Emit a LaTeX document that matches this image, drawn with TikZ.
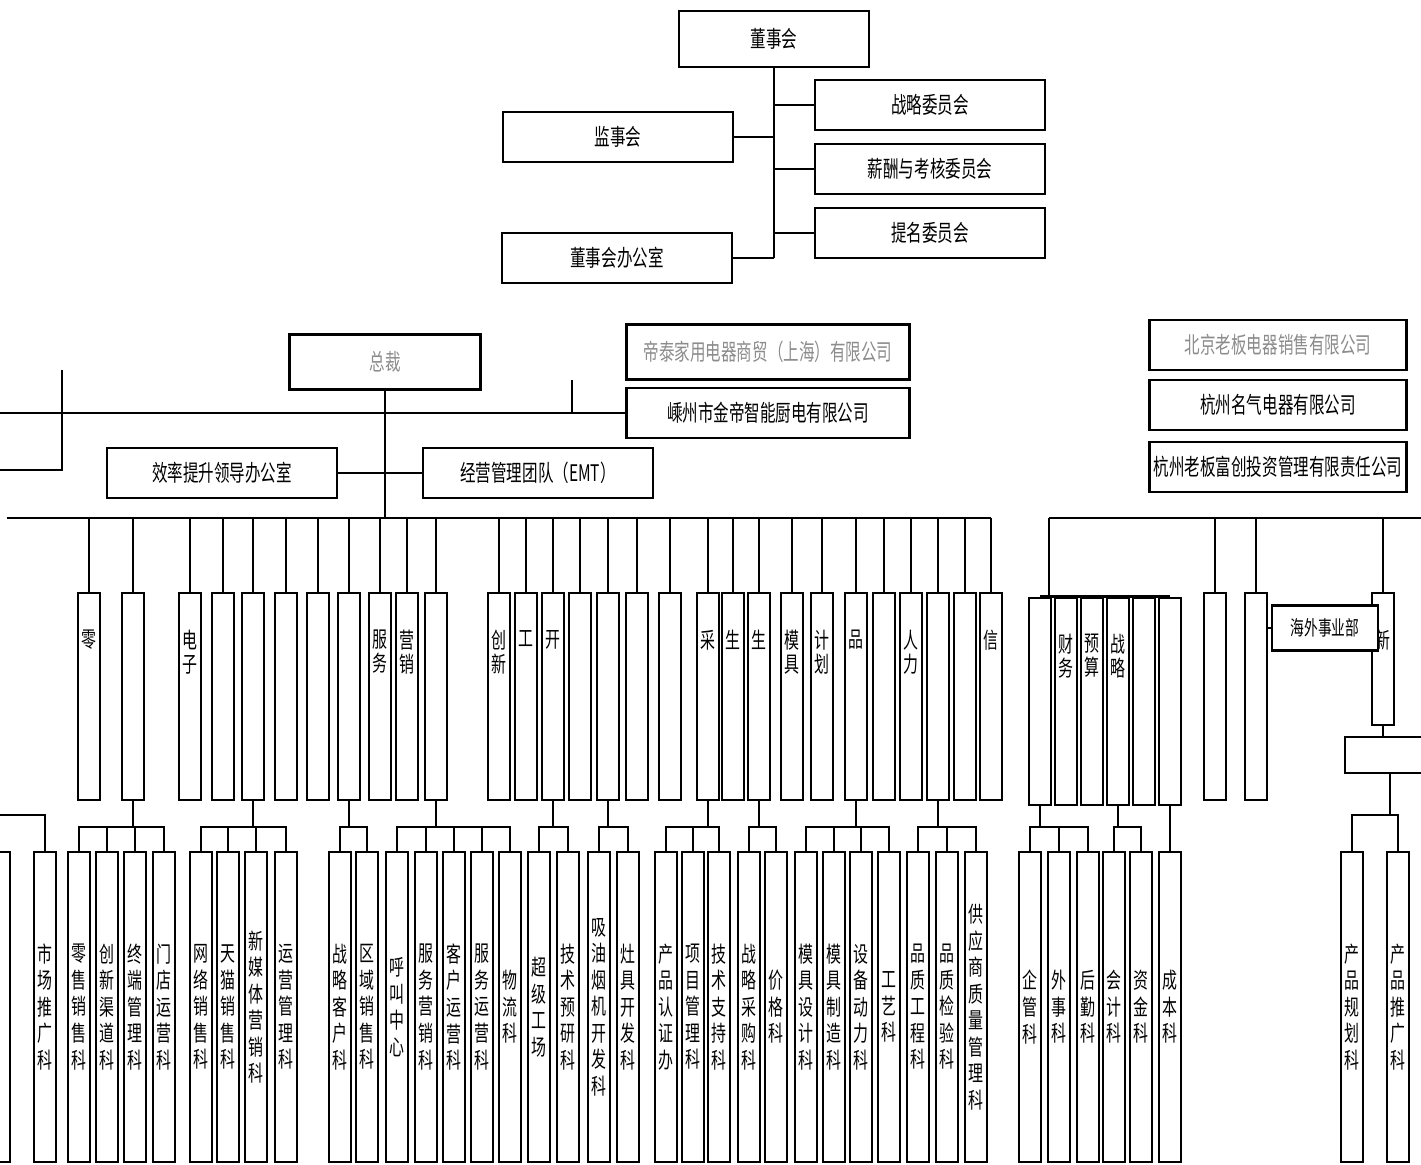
\documentclass[tikz,border=0pt]{standalone}
\usepackage{fontspec}
\newfontfamily\cjk[FakeStretch=0.68]{Noto Sans CJK SC}
\usetikzlibrary{positioning}

\begin{document}
\begin{tikzpicture}[x=0.02cm,y=-0.02cm]
    \tikzstyle{edge}=[draw=black,line width=1.6pt,-]
    \tikzstyle{board}=[rectangle,draw=black,line width=1.6pt,fill=white,minimum width=4.6cm,minimum height=1cm,inner sep=0pt,font=\cjk\fontsize{13}{15}\selectfont]
    \tikzstyle{dept}=[rectangle,draw=black,line width=1.5pt,minimum width=0.44cm,minimum height=4.14cm,inner sep=0pt]
    \tikzstyle{frag}=[anchor=north,inner sep=0pt,align=center,font=\cjk\fontsize{12.5}{13.6}\selectfont]
    \tikzstyle{sect}=[rectangle,draw=black,line width=1.5pt,minimum width=0.44cm,minimum height=6.2cm,inner sep=0pt,align=center,font=\cjk\fontsize{12.5}{15.1}\selectfont]

    \useasboundingbox (0,0) rectangle (1421,1164);

    % board level
    \node[board,minimum width=3.8cm,minimum height=1.12cm] (dsh) at (774,39) {董事会};
    \node[board] (zlwy) at (930,105) {战略委员会};
    \node[board] (xcwy) at (930,169) {薪酬与考核委员会};
    \node[board] (tmwy) at (930,233) {提名委员会};
    \node[board] (jsh)  at (618,137) {监事会};
    \node[board] (dshb) at (617,258) {董事会办公室};

    \coordinate (t0) at (774,258);
    \path[edge] (dsh) -- (t0);
    \path[edge] (zlwy.west) -- (zlwy.west -| t0);
    \path[edge] (xcwy.west) -- (xcwy.west -| t0);
    \path[edge] (tmwy.west) -- (tmwy.west -| t0);
    \path[edge] (jsh.east) -- (jsh.east -| t0);
    \path[edge] (dshb.east) -- (dshb.east -| t0);

    % management level
    \node[board,minimum width=3.82cm,minimum height=1.1cm,text=black!45] (zc) at (385,362) {总裁};
    \node[board,minimum width=5.66cm,minimum height=1.1cm,text=black!45] (dt) at (768,352) {帝泰家用电器商贸（上海）有限公司};
    \node[board,minimum width=5.66cm] (szjd) at (768,413) {嵊州市金帝智能厨电有限公司};
    \node[board,minimum width=5.14cm,text=black!45] (bj) at (1278,345) {北京老板电器销售有限公司};
    \node[board,minimum width=5.14cm] (hzmq) at (1278,405) {杭州名气电器有限公司};
    \node[board,minimum width=5.14cm] (hzfc) at (1278,467) {杭州老板富创投资管理有限责任公司};
    \node[board] (xl)  at (222,473) {效率提升领导办公室};
    \node[board] (emt) at (538,473) {经营管理团队（EMT）};

    \coordinate (ml) at (0,413);
    \coordinate (bus0) at (385,518);
    \coordinate (c572) at (572,380);
    \coordinate (la) at (62,370);
    \coordinate (lc) at (0,470);
    \path[edge] (ml) -- (szjd.west);
    \path[edge] (zc) -- (bus0);
    \path[edge] (xl.east) -- (xl.east -| bus0);
    \path[edge] (emt.west) -- (emt.west -| bus0);
    \path[edge] (c572) -- (c572 |- ml);
    \path[edge] (la) |- (lc);

    % departments
    \coordinate (busL) at (7,518);
    \coordinate (busR) at (991,518);
    \path[edge] (busL) -- (busR);
    \foreach \x/\t [count=\i] in {89/{零},133/{},190/{电\\子},223/{},253/{},286/{},318/{},349/{},380/{服\\务},407/{营\\销},
        436/{},499/{创\\新},526/{工},553/{开},580/{},608/{},637/{},670/{},708/{采},733/{生},
        759/{生},792/{模\\具},822/{计\\划},856/{品},884/{},911/{人\\力},938/{},965/{},991/{信}}
    {
        \node[dept] (d\i) at (\x,696.5) {};
        \node[frag] (dl\i) at (\x,630) {\t};
        \path[edge] (\x,518) -- (d\i.north);
    }

    \coordinate (rv) at (1049,518);
    \coordinate (rbR) at (1421,518);
    \path[edge] (rv) -- (rbR);
    \node[dept] (r1) at (1040,701.5) {};
    \node[dept] (r2) at (1066,701.5) {};
    \node[dept] (r3) at (1092,701.5) {};
    \node[dept] (r4) at (1118,701.5) {};
    \node[dept] (r5) at (1144,701.5) {};
    \node[dept] (r6) at (1170,701.5) {};
    \node[frag] (rl2) at (1066,634) {财\\务};
    \node[frag] (rl3) at (1092,634) {预\\算};
    \node[frag] (rl4) at (1118,634) {战\\略};
    \path[edge] (rv) -- (rv |- r1.north);
    \path[edge] (r1.north) -- (r6.north);

    \node[dept] (r7) at (1215,696.5) {};
    \node[dept] (r8) at (1256,696.5) {};
    \node[dept,minimum height=2.64cm] (r9) at (1383,659) {};
    \node[frag] (rl9) at (1383,630) {新};
    \node[board,minimum width=2.12cm,minimum height=0.9cm,font=\cjk\fontsize{11.5}{13}\selectfont] (hw) at (1325,628) {海外事业部};
    \node[board,minimum width=1.8cm,minimum height=0.72cm] (rb) at (1390,755) {};
    \path[edge] (1215,518) -- (r7.north);
    \path[edge] (1256,518) -- (r8.north);
    \path[edge] (1383,518) -- (r9.north);
    \path[edge] (r8.east |- hw.west) -- (hw.west);
    \path[edge] (r9.south) -- (rb.north -| r9.south);

    % sections
    \coordinate (sb) at (0,827);
    \coordinate (sbr) at (0,815);
    \coordinate (lb) at (0,815);

    \node[sect] (lcut) at (-1,1007) {};
    \node[sect] (scpt) at (45,1007) {市\\场\\推\\广\\科};
    \node[sect] (lsxs) at (79,1007) {零\\售\\销\\售\\科};
    \node[sect] (cxqd) at (107,1007) {创\\新\\渠\\道\\科};
    \node[sect] (zdgl) at (135,1007) {终\\端\\管\\理\\科};
    \node[sect] (mdyy) at (164,1007) {门\\店\\运\\营\\科};
    \node[sect] (wlxs) at (201,1007) {网\\络\\销\\售\\科};
    \node[sect] (tmxs) at (228,1007) {天\\猫\\销\\售\\科};
    \node[sect] (xmt)  at (256,1007) {新\\媒\\体\\营\\销\\科};
    \node[sect] (yygl) at (286,1007) {运\\营\\管\\理\\科};
    \node[sect] (zlkh) at (340,1007) {战\\略\\客\\户\\科};
    \node[sect] (qyxs) at (367,1007) {区\\域\\销\\售\\科};
    \node[sect] (hjzx) at (397,1007) {呼\\叫\\中\\心};
    \node[sect] (fwyx) at (426,1007) {服\\务\\营\\销\\科};
    \node[sect] (khyy) at (454,1007) {客\\户\\运\\营\\科};
    \node[sect] (fwyy) at (482,1007) {服\\务\\运\\营\\科};
    \node[sect] (wl)   at (510,1007) {物\\流\\科};
    \node[sect] (cjgc) at (539,1007) {超\\级\\工\\场};
    \node[sect] (jsyy) at (568,1007) {技\\术\\预\\研\\科};
    \node[sect] (xyyj) at (599,1007) {吸\\油\\烟\\机\\开\\发\\科};
    \node[sect] (zjkf) at (628,1007) {灶\\具\\开\\发\\科};
    \node[sect] (cprz) at (666,1007) {产\\品\\认\\证\\办};
    \node[sect] (xmgl) at (693,1007) {项\\目\\管\\理\\科};
    \node[sect] (jszc) at (719,1007) {技\\术\\支\\持\\科};
    \node[sect] (zlcg) at (749,1007) {战\\略\\采\\购\\科};
    \node[sect] (jg)   at (776,1007) {价\\格\\科};
    \node[sect] (mjsj) at (806,1007) {模\\具\\设\\计\\科};
    \node[sect] (mjzz) at (834,1007) {模\\具\\制\\造\\科};
    \node[sect] (sbdl) at (861,1007) {设\\备\\动\\力\\科};
    \node[sect] (gy)   at (889,1007) {工\\艺\\科};
    \node[sect] (pzgc) at (918,1007) {品\\质\\工\\程\\科};
    \node[sect] (pzjy) at (947,1007) {品\\质\\检\\验\\科};
    \node[sect] (gysz) at (976,1007) {供\\应\\商\\质\\量\\管\\理\\科};
    \node[sect] (qg)   at (1030,1007) {企\\管\\科};
    \node[sect] (ws)   at (1059,1007) {外\\事\\科};
    \node[sect] (hq)   at (1088,1007) {后\\勤\\科};
    \node[sect] (kj)   at (1114,1007) {会\\计\\科};
    \node[sect] (zj)   at (1141,1007) {资\\金\\科};
    \node[sect] (cb)   at (1170,1007) {成\\本\\科};
    \node[sect] (cpgh) at (1352,1007) {产\\品\\规\\划\\科};
    \node[sect] (cptg) at (1398,1007) {产\\品\\推\\广\\科};

    \path[edge] (lb) -| (scpt.north);
    \foreach \c in {lsxs,cxqd,zdgl,mdyy} \path[edge] (d2.south) |- (\c.north |- sb) -- (\c.north);
    \foreach \c in {wlxs,tmxs,xmt,yygl} \path[edge] (d5.south) |- (\c.north |- sb) -- (\c.north);
    \foreach \c in {zlkh,qyxs} \path[edge] (d8.south) |- (\c.north |- sb) -- (\c.north);
    \foreach \c in {hjzx,fwyx,khyy,fwyy,wl} \path[edge] (d11.south) |- (\c.north |- sb) -- (\c.north);
    \foreach \c in {cjgc,jsyy} \path[edge] (d14.south) |- (\c.north |- sb) -- (\c.north);
    \foreach \c in {xyyj,zjkf} \path[edge] (d16.south) |- (\c.north |- sb) -- (\c.north);
    \foreach \c in {cprz,xmgl,jszc} \path[edge] (d19.south) |- (\c.north |- sb) -- (\c.north);
    \foreach \c in {zlcg,jg} \path[edge] (d21.south) |- (\c.north |- sb) -- (\c.north);
    \foreach \c in {mjsj,mjzz,sbdl,gy} \path[edge] (d24.south) |- (\c.north |- sb) -- (\c.north);
    \foreach \c in {pzgc,pzjy,gysz} \path[edge] (d27.south) |- (\c.north |- sb) -- (\c.north);
    \foreach \c in {qg,ws,hq} \path[edge] (r1.south) |- (\c.north |- sb) -- (\c.north);
    \foreach \c in {kj,zj} \path[edge] (r4.south) |- (\c.north |- sb) -- (\c.north);
    \path[edge] (r6.south) -- (cb.north);
    \foreach \c in {cpgh,cptg} \path[edge] (rb.south) |- (\c.north |- sbr) -- (\c.north);
\end{tikzpicture}
\end{document}
